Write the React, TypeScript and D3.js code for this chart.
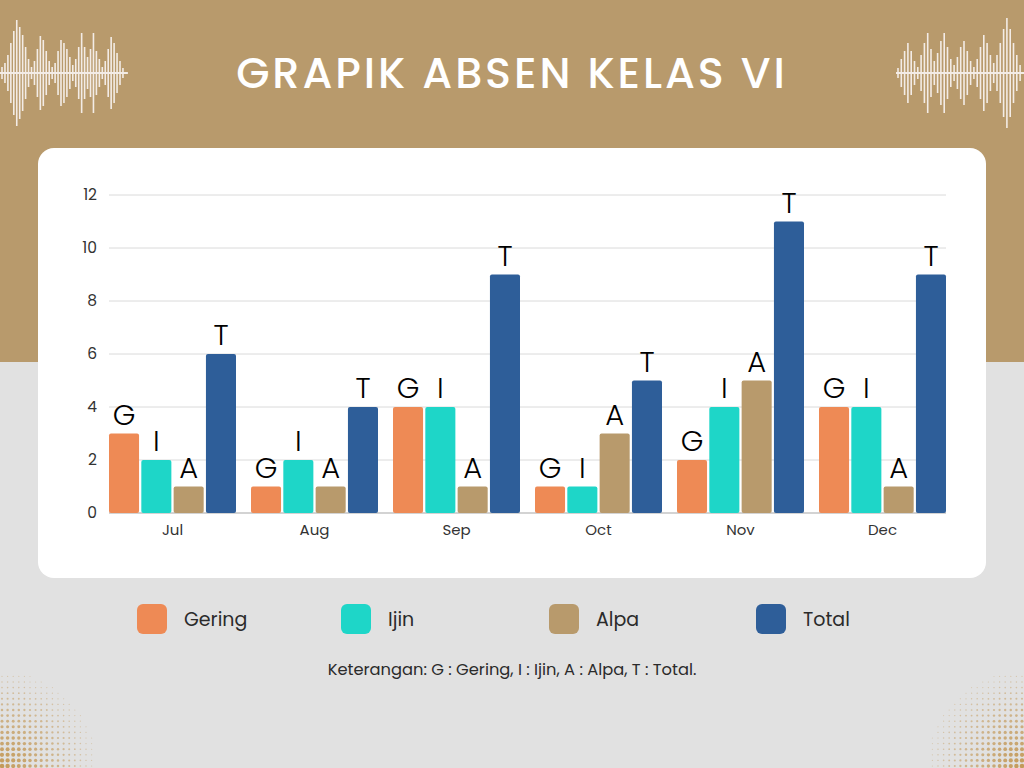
import React from 'react';
import { scaleBand, scaleLinear, range } from 'd3';

const months = ['Jul', 'Aug', 'Sep', 'Oct', 'Nov', 'Dec'];
const seriesKeys = ['G', 'I', 'A', 'T'];
const seriesNames = ['Gering', 'Ijin', 'Alpa', 'Total'];
const gering = [3, 1, 4, 1, 2, 4];
const ijin = [2, 2, 4, 1, 4, 4];
const alpa = [1, 1, 1, 3, 5, 1];
const total = [6, 4, 9, 5, 11, 9];
const yTicks = [0, 2, 4, 6, 8, 10, 12];
const colors = ['#EE8A55', '#1ED6C8', '#B89A6C', '#2E5E99'];

// decorative sound-wave half heights (left / right)
const waveLeft = [6, 10, 18, 30, 42, 53, 46, 38, 26, 14, 6, 12, 24, 37, 33, 22, 12, 6, 10, 22, 33, 30, 24, 16, 8, 14, 26, 40, 26, 16, 24, 40, 22, 14, 6, 12, 24, 36, 30, 20, 12, 5];
const waveRight = [5, 14, 22, 30, 22, 12, 6, 18, 30, 40, 24, 12, 20, 32, 40, 26, 14, 8, 16, 26, 32, 22, 12, 6, 14, 26, 38, 30, 18, 10, 18, 30, 44, 55, 44, 30, 18, 8];

const W = 1024;
const H = 768;
const card = { x: 38, y: 148, w: 948, h: 430 };

const x0 = scaleBand<string>().domain(months).range([101.5, 953.5]);
const x1 = scaleBand<string>()
  .domain(seriesKeys)
  .range([7.5, x0.bandwidth() - 7.5])
  .paddingInner(0.07);
const y = scaleLinear().domain([0, 12]).range([513, 195]);

const values = [gering, ijin, alpa, total];

function Wave({ heights, x, cy, step }: { heights: number[]; x: number; cy: number; step: number }) {
  return (
    <g stroke="#F3ECE6" strokeWidth={1.6}>
      <line x1={x - 2} x2={x + heights.length * step + 2} y1={cy} y2={cy} strokeWidth={2} />
      {heights.map((h, i) => (
        <line key={i} x1={x + i * step} x2={x + i * step} y1={cy - h} y2={cy + h} />
      ))}
    </g>
  );
}

function Halftone({ cx, cy, dirX }: { cx: number; cy: number; dirX: number }) {
  const pts: { x: number; y: number; r: number; o: number }[] = [];
  const sp = 5.6;
  range(0, 19).forEach((i) => {
    range(0, 19).forEach((j) => {
      const px = cx + dirX * (i * sp + 2);
      const py = cy - (j * sp + 2);
      const d = Math.hypot(i * sp, j * sp);
      const t = 1 - d / 95;
      if (t <= 0) return;
      pts.push({ x: px, y: py, r: 0.5 + 1.8 * t, o: 0.35 + 0.65 * t });
    });
  });
  return (
    <g fill="#C49A5A">
      {pts.map((p, k) => (
        <circle key={k} cx={p.x} cy={p.y} r={p.r} opacity={p.o} />
      ))}
    </g>
  );
}

export default function App() {
  const gridX0 = (x0(months[0]) ?? 0) + (x1('G') ?? 0);
  const last = months[months.length - 1];
  const gridX1 = (x0(last) ?? 0) + (x1('T') ?? 0) + x1.bandwidth();
  const bw = x1.bandwidth();
  const ui = 'Poppins, Inter, "Open Sans", sans-serif';

  return (
    <svg
      width={W}
      height={H}
      viewBox={`0 0 ${W} ${H}`}
      style={{ position: 'absolute', left: 0, top: 0, display: 'block' }}
    >
      <rect x={0} y={0} width={W} height={H} fill="#E1E1E1" />
      <rect x={0} y={0} width={W} height={362} fill="#B89A6C" />

      <Wave heights={waveLeft} x={2} cy={73} step={2.95} />
      <Wave heights={waveRight} x={898} cy={73} step={3.3} />

      <Halftone cx={0} cy={768} dirX={1} />
      <Halftone cx={1024} cy={768} dirX={-1} />

      <text
        x={512}
        y={88}
        textAnchor="middle"
        fill="#FFFFFF"
        fontFamily={ui}
        fontWeight={500}
        fontSize={43}
        letterSpacing={2.9}
      >
        GRAPIK ABSEN KELAS VI
      </text>

      <rect x={card.x} y={card.y} width={card.w} height={card.h} rx={16} fill="#FFFFFF" />

      {/* grid */}
      {yTicks.map((t) => (
        <g key={t}>
          <line
            x1={gridX0}
            x2={gridX1}
            y1={y(t)}
            y2={y(t)}
            stroke={t === 0 ? '#A8A8A8' : '#DADADA'}
            strokeWidth={t === 0 ? 1.2 : 1}
          />
          <text
            x={97}
            y={y(t)}
            dy="0.35em"
            textAnchor="end"
            fontFamily={ui}
            fontSize={15.5}
            fill="#333"
          >
            {t}
          </text>
        </g>
      ))}

      {/* bars */}
      {months.map((m, mi) => (
        <g key={m} transform={`translate(${x0(m)},0)`}>
          {seriesKeys.map((k, si) => {
            const v = values[si][mi];
            const bx = x1(k) ?? 0;
            const top = y(v);
            return (
              <g key={k}>
                <rect
                  x={bx}
                  y={top}
                  width={bw}
                  height={y(0) - top}
                  rx={2}
                  fill={colors[si]}
                />
                <text
                  x={bx + bw / 2}
                  y={top - 9}
                  textAnchor="middle"
                  fontFamily={ui}
                  fontWeight={300}
                  fontSize={29}
                  fill="#000"
                >
                  {k}
                </text>
              </g>
            );
          })}
          <text
            x={x0.bandwidth() / 2}
            y={535}
            textAnchor="middle"
            fontFamily={ui}
            fontSize={15}
            fill="#333"
          >
            {m}
          </text>
        </g>
      ))}

      {/* legend */}
      {seriesNames.map((name, i) => {
        const lx = [137, 341, 549, 756][i];
        return (
          <g key={name}>
            <rect x={lx} y={604} width={30} height={30} rx={6} fill={colors[i]} />
            <text
              x={lx + 47}
              y={626}
              fontFamily={ui}
              fontSize={19}
              fill="#2B2B2B"
            >
              {name}
            </text>
          </g>
        );
      })}

      <text
        x={512}
        y={675}
        textAnchor="middle"
        fontFamily={ui}
        fontSize={16.3}
        fill="#2B2B2B"
      >
        Keterangan: G : Gering, I : Ijin, A : Alpa, T : Total.
      </text>
    </svg>
  );
}
